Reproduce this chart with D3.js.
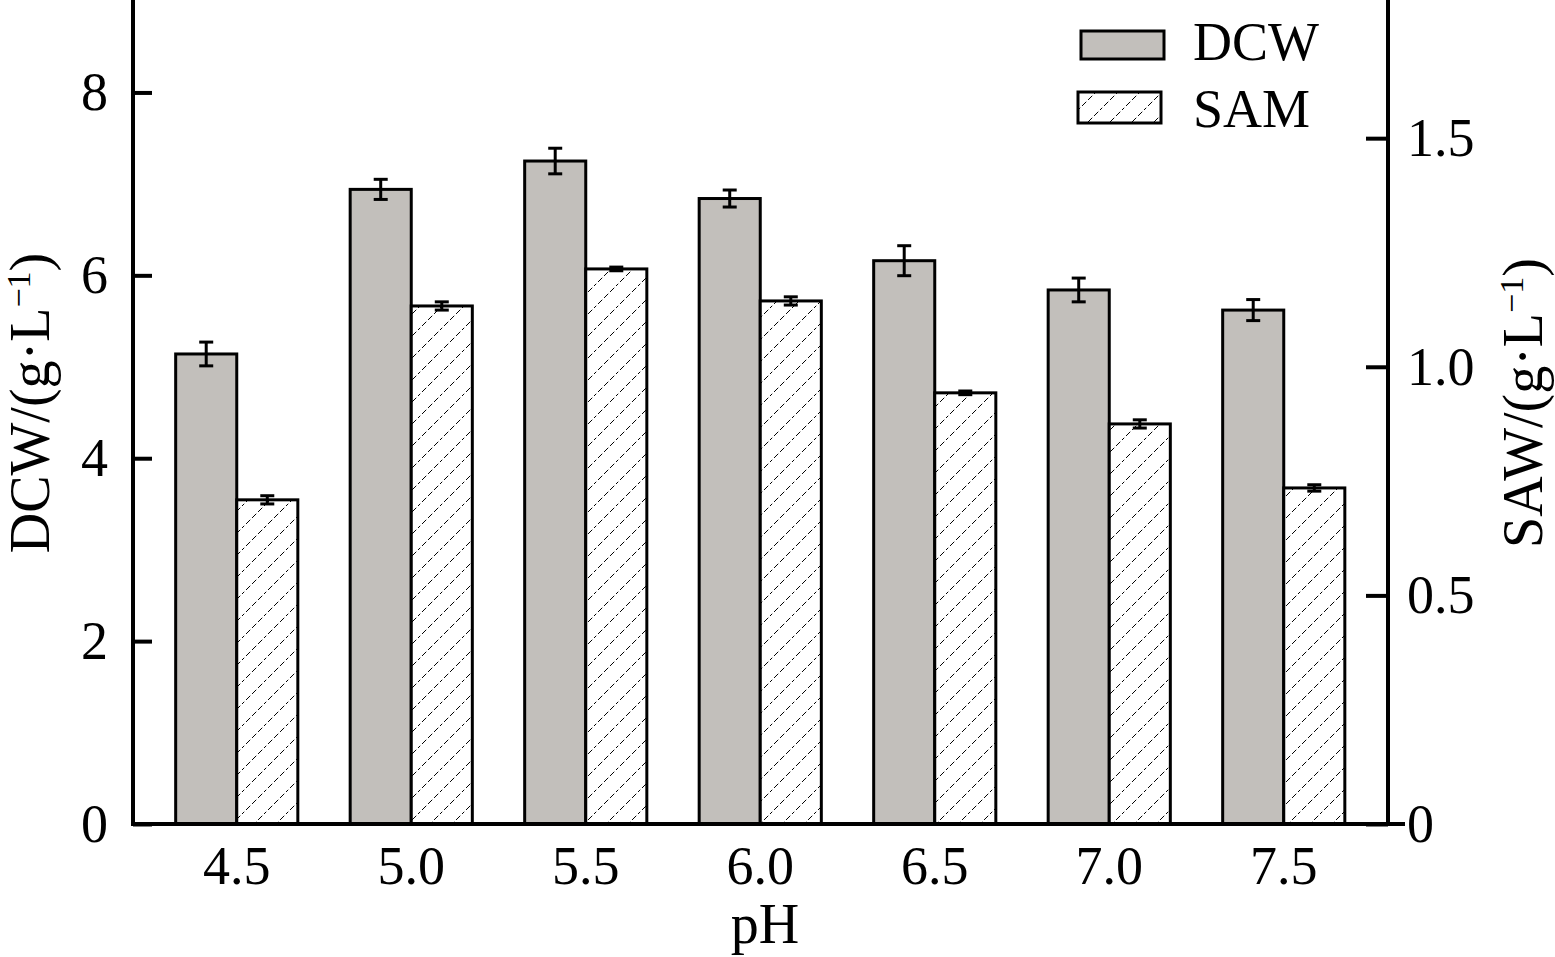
<!DOCTYPE html>
<html><head><meta charset="utf-8">
<script src="https://cdn.jsdelivr.net/npm/d3@7"></script>
<style>
html,body{margin:0;padding:0;background:#fff;}
svg{display:block;font-family:"Liberation Serif","DejaVu Serif",serif;}
</style></head>
<body>
<svg id="chart" width="1555" height="957"></svg>
<script>
const categories = ["4.5","5.0","5.5","6.0","6.5","7.0","7.5"];
const dcwValues = [5.14, 6.94, 7.25, 6.84, 6.16, 5.84, 5.62];
const dcwErrors = [0.13, 0.11, 0.14, 0.093, 0.164, 0.13, 0.115];
const samValues = [0.709, 1.133, 1.214, 1.144, 0.943, 0.875, 0.735];
const samErrors = [0.009, 0.009, 0.004, 0.009, 0.004, 0.009, 0.007];
const leftTicks = [0, 2, 4, 6, 8];
const rightTicks = [0, 0.5, 1.0, 1.5];
const seriesNames = ["DCW", "SAM"];

const svg = d3.select("#chart");
const x0 = 133, x1 = 1388, yBase = 824;
const fs = 54;

const defs = svg.append("defs");
const pat = defs.append("pattern").attr("id","hatch").attr("patternUnits","userSpaceOnUse")
  .attr("width",22).attr("height",22);
pat.append("rect").attr("width",22).attr("height",22).attr("fill","#fff");
pat.append("path").attr("d","M-2,24 L24,-2 M-13,13 L13,-13 M9,35 L35,9")
  .attr("stroke","#000").attr("stroke-width",1).attr("stroke-dasharray","6,2.5").attr("fill","none");

const xg = d3.scaleBand().domain(categories).range([149.5, 1371]).paddingInner(0.3).paddingOuter(0.15);
const xs = d3.scaleBand().domain(seriesNames).range([0, xg.bandwidth()]);
const yL = d3.scaleLinear().domain([0, 9]).range([yBase, 1]);
const yR = d3.scaleLinear().domain([0, 1.8]).range([yBase, 1]);

const data = categories.map((c,i)=>({c, dcw:dcwValues[i], de:dcwErrors[i], sam:samValues[i], se:samErrors[i]}));

// bars
const g = svg.append("g");
g.selectAll("rect.dcw").data(data).join("rect").attr("class","dcw")
  .attr("x", d=>xg(d.c)+xs("DCW")).attr("width", xs.bandwidth())
  .attr("y", d=>yL(d.dcw)).attr("height", d=>yBase-yL(d.dcw))
  .attr("fill","#c2bfbb").attr("stroke","#000").attr("stroke-width",3);
g.selectAll("rect.sam").data(data).join("rect").attr("class","sam")
  .attr("x", d=>xg(d.c)+xs("SAM")).attr("width", xs.bandwidth())
  .attr("y", d=>yR(d.sam)).attr("height", d=>yBase-yR(d.sam))
  .attr("fill","url(#hatch)").attr("stroke","#000").attr("stroke-width",3);

// error bars
function errBars(cls, getX, getV, getE, sc){
  const eg = g.selectAll("g."+cls).data(data).join("g").attr("class",cls)
    .attr("stroke","#000").attr("stroke-width",3);
  eg.append("line").attr("x1",getX).attr("x2",getX)
    .attr("y1",d=>sc(getV(d)+getE(d))).attr("y2",d=>sc(getV(d)-getE(d)));
  eg.append("line").attr("x1",d=>getX(d)-7).attr("x2",d=>getX(d)+7)
    .attr("y1",d=>sc(getV(d)+getE(d))).attr("y2",d=>sc(getV(d)+getE(d)));
  eg.append("line").attr("x1",d=>getX(d)-7).attr("x2",d=>getX(d)+7)
    .attr("y1",d=>sc(getV(d)-getE(d))).attr("y2",d=>sc(getV(d)-getE(d)));
}
errBars("edcw", d=>xg(d.c)+xs("DCW")+xs.bandwidth()/2, d=>d.dcw, d=>d.de, yL);
errBars("esam", d=>xg(d.c)+xs("SAM")+xs.bandwidth()/2, d=>d.sam, d=>d.se, yR);

// axes
const axL = svg.append("g").attr("transform",`translate(${x0},0)`)
  .call(d3.axisLeft(yL).tickValues(leftTicks).tickFormat(d3.format("d")).tickSizeInner(-19).tickSizeOuter(0).tickPadding(25));
const axR = svg.append("g").attr("transform",`translate(${x1},0)`)
  .call(d3.axisRight(yR).tickValues(rightTicks).tickFormat(d=>d===0?"0":d3.format(".1f")(d)).tickSizeInner(-22).tickSizeOuter(0).tickPadding(19));
const axB = svg.append("g").attr("transform",`translate(0,${yBase})`)
  .call(d3.axisBottom(xg).tickSize(0).tickPadding(22));
[axL,axR,axB].forEach(a=>{
  a.selectAll("path.domain").attr("stroke","#000").attr("stroke-width",4);
  a.selectAll(".tick line").attr("stroke","#000").attr("stroke-width",4);
  a.selectAll("text").attr("fill","#000").style("font-size",fs+"px").style("font-family",'"Liberation Serif",serif');
});
axB.select("path.domain").remove();
svg.append("line").attr("x1",x0-2).attr("x2",1405).attr("y1",yBase).attr("y2",yBase)
  .attr("stroke","#000").attr("stroke-width",4);
axL.select("path.domain").attr("d",`M0,${yBase}V0`);
axR.select("path.domain").attr("d",`M0,${yBase}V0`);

// axis titles
function title(xp, yp, main){
  const t = svg.append("text").attr("transform",`translate(${xp},${yp}) rotate(-90)`)
    .attr("text-anchor","middle").style("font-size","56px").attr("fill","#000");
  t.append("tspan").text(main + "/(g·L");
  t.append("tspan").text("−1").style("font-size","34px").attr("dy",-19);
  t.append("tspan").text(")").attr("dy",19);
}
title(49, 403, "DCW");
title(1542, 403, "SAW");
svg.append("text").attr("x",765).attr("y",943).attr("text-anchor","middle")
  .style("font-size","56px").attr("fill","#000").text("pH");

// legend
const lg = svg.append("g");
lg.append("rect").attr("x",1081).attr("y",31).attr("width",83).attr("height",28)
  .attr("fill","#c2bfbb").attr("stroke","#000").attr("stroke-width",3);
lg.append("rect").attr("x",1078).attr("y",92).attr("width",83).attr("height",31)
  .attr("fill","url(#hatch)").attr("stroke","#000").attr("stroke-width",3);
lg.append("text").attr("x",1193).attr("y",60).style("font-size","54px").attr("fill","#000").text(seriesNames[0]);
lg.append("text").attr("x",1193).attr("y",127).style("font-size","54px").attr("fill","#000").text(seriesNames[1]);
</script>
</body></html>
